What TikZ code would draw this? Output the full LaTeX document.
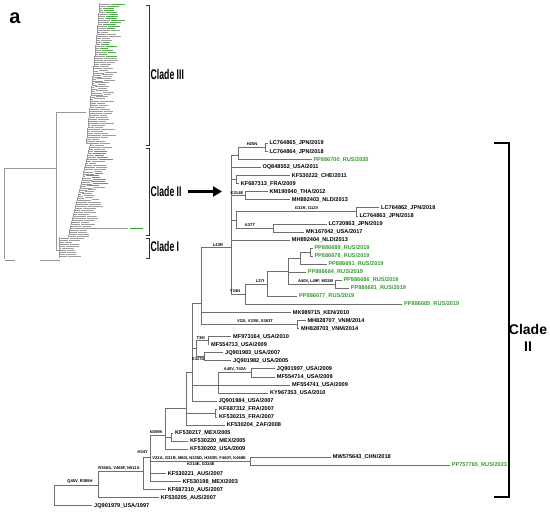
\documentclass[tikz,border=0pt]{standalone}
\usepackage{fontspec}
\setmainfont{Liberation Sans}
\usepackage{graphicx}
\usetikzlibrary{arrows.meta}
\definecolor{tg}{RGB}{50,155,45}
\definecolor{br}{RGB}{110,110,110}
\begin{document}
\begin{tikzpicture}[x=1pt,y=-1pt,
  leaf/.style={anchor=west, inner xsep=1.6pt, inner ysep=0pt, font=\fontsize{5.6}{6}\selectfont\bfseries, text=black},
  gleaf/.style={leaf, text=tg},
  mut/.style={anchor=south, inner sep=0.3pt, font=\fontsize{4.1}{4.5}\selectfont\bfseries},
  mutb/.style={mut, anchor=north},
  edge/.style={draw=br, line width=0.5pt},
  thumb/.style={black!40, line width=0.3pt},
  bigbracket/.style={line width=2.6pt, line join=miter},
  smallbracket/.style={line width=0.8pt, draw=black!80},
  cladelab/.style={anchor=west, inner sep=0pt, font=\fontsize{14}{14}\selectfont\bfseries}]
\useasboundingbox (0,0) rectangle (550,512);

% ---------- thumbnail tree ----------
\pgfmathsetseed{11}
\foreach \i in {0,...,125} {
  \pgfmathsetmacro\yy{4+2.02*\i}
  \pgfmathsetmacro\xb{\yy<145 ? 100-14*\yy/145 : (\yy<237 ? 90-22*(\yy-145)/92 : 59)}
  \pgfmathsetmacro\len{2+12*rnd}
  \pgfmathsetmacro\wid{7+8*rnd}
  \pgfmathtruncatemacro\isg{(\yy<30 || (\yy>42 && \yy<58) || (\yy>150 && \yy<160) || (\yy>172 && \yy<186)) ? 1 : 0}
  \ifnum\isg=1 \def\lc{tg!85}\else\def\lc{black!38}\fi
  \draw[thumb] (\xb,\yy-1.01) -- (\xb,\yy+1.01);
  \draw[thumb] (\xb,\yy) -- ++(\len,0);
  \fill[\lc] (\xb+\len+1,\yy-0.45) rectangle ++(\wid,0.9);
}
\draw[thumb] (4,168.3) -- (56,168.3);
\draw[thumb] (4,168.3) -- (4,259);
\draw[thumb] (56,112) -- (56,250) -- (59,250);
\draw[thumb] (56,112) -- (86,112);
\draw[thumb] (75,228) -- (128,228);
\fill[tg] (130,227.5) rectangle (143,228.5);
\fill[black!45] (5,259.8) rectangle (15,260.8);
\draw[thumb] (40,260.3) -- (60,260.3);

% ---------- thumbnail brackets ----------
\draw[smallbracket] (146,5) -- (149,5) -- (149,145) -- (146,145);
\draw[smallbracket] (146,148) -- (149,148) -- (149,235) -- (146,235);
\draw[smallbracket] (146,238.5) -- (149,238.5) -- (149,258) -- (146,258);
\node[cladelab] (c3) at (150.5,74) {\scalebox{0.62}[1]{Clade III}};
\node[cladelab] (c2s) at (150.5,191.5) {\scalebox{0.62}[1]{Clade II}};
\node[cladelab] (c1) at (150.5,246) {\scalebox{0.62}[1]{Clade I}};
\coordinate (arrend) at (222,191.5);
\draw[line width=2.6pt, -{Triangle[length=9pt,width=10pt]}] ([xshift=6pt]c2s.east) -- (arrend);
\node[font=\fontsize{20}{20}\selectfont\bfseries] (lab) at (15,18) {a};

% ---------- main tree: internal nodes ----------
\coordinate (r) at (54.3,495);
\coordinate (n1) at (98.3,485);
\coordinate (n2) at (143.3,471.3);
\coordinate (n3) at (150,457.3);
\coordinate (n5) at (250,461.3);
\coordinate (n4) at (165,435.3);
\coordinate (n7) at (171.7,437.1);
\coordinate (n6) at (186.7,408);
\coordinate (n9) at (215.7,413);
\coordinate (n8) at (192,372);
\coordinate (n11) at (196,348.6);
\coordinate (n13) at (208,340.5);
\coordinate (n14) at (204.3,356.6);
\coordinate (n12) at (218,384.8);
\coordinate (n15) at (251.7,372.7);
\coordinate (n10) at (201.7,303.3);
\coordinate (n17) at (297.3,324.4);
\coordinate (n16) at (231,247.7);
\coordinate (n18) at (238,155.4);
\coordinate (n23) at (265,147.3);
\coordinate (n19) at (236.7,179.5);
\coordinate (n20) at (245,195.6);
\coordinate (n21) at (236,219.8);
\coordinate (n24) at (356.7,211.7);
\coordinate (n25) at (273.3,227.8);
\coordinate (n22) at (245,294);
\coordinate (n26) at (267,284);
\coordinate (n27) at (288,271);
\coordinate (n28) at (300,258);
\coordinate (n30) at (310,252);
\coordinate (n29) at (335,284.2);

% ---------- leaves ----------
\node[leaf] (l0) at (267.7,143.3) {LC764865\_JPN/2019};
\node[leaf] (l1) at (267.7,151.35) {LC764864\_JPN/2018};
\node[gleaf] (l2) at (311.7,159.4) {PP886700\_RUS/2020};
\node[leaf] (l3) at (260.7,167.45) {OQ848552\_USA/2011};
\node[leaf] (l4) at (290.1,175.5) {KF530222\_CHE/2011};
\node[leaf] (l5) at (239.1,183.55) {KF687313\_FRA/2009};
\node[leaf] (l6) at (267.7,191.6) {KM190940\_THA/2012};
\node[leaf] (l7) at (290.1,199.65) {MH892403\_NLD/2013};
\node[leaf] (l8) at (379.4,207.7) {LC764862\_JPN/2018};
\node[leaf] (l9) at (357.7,215.75) {LC764863\_JPN/2018};
\node[leaf] (l10) at (326.7,223.8) {LC720863\_JPN/2019};
\node[leaf] (l11) at (304.4,231.85) {MK167042\_USA/2017};
\node[leaf] (l12) at (290.1,239.9) {MH892404\_NLD/2013};
\node[gleaf] (l13) at (312.7,247.95) {PP886688\_RUS/2019};
\node[gleaf] (l14) at (312.7,256.0) {PP886678\_RUS/2019};
\node[gleaf] (l15) at (326.7,264.05) {PP886691\_RUS/2019};
\node[gleaf] (l16) at (306.1,272.1) {PP886684\_RUS/2019};
\node[gleaf] (l17) at (341.7,280.15) {PP886686\_RUS/2019};
\node[gleaf] (l18) at (349.1,288.2) {PP886681\_RUS/2019};
\node[gleaf] (l19) at (297.4,296.25) {PP886677\_RUS/2019};
\node[gleaf] (l20) at (402.4,304.3) {PP886685\_RUS/2019};
\node[leaf] (l21) at (291.1,312.35) {MK989715\_KEN/2010};
\node[leaf] (l22) at (305.7,320.4) {MH828707\_VNM/2014};
\node[leaf] (l23) at (299.4,328.45) {MH828703\_VNM/2014};
\node[leaf] (l24) at (231.4,336.5) {MF973164\_USA/2010};
\node[leaf] (l25) at (209.4,344.55) {MF554713\_USA/2009};
\node[leaf] (l26) at (223.4,352.6) {JQ901983\_USA/2007};
\node[leaf] (l27) at (231.4,360.65) {JQ901982\_USA/2005};
\node[leaf] (l28) at (275.1,368.7) {JQ901997\_USA/2009};
\node[leaf] (l29) at (275.1,376.75) {MF554714\_USA/2009};
\node[leaf] (l30) at (290.4,384.8) {MF554741\_USA/2009};
\node[leaf] (l31) at (268.4,392.85) {KY967353\_USA/2010};
\node[leaf] (l32) at (216.7,400.9) {JQ901984\_USA/2007};
\node[leaf] (l33) at (217.4,408.95) {KF687312\_FRA/2007};
\node[leaf] (l34) at (217.4,417.0) {KF530215\_FRA/2007};
\node[leaf] (l35) at (225.1,425.05) {KF530204\_ZAF/2008};
\node[leaf] (l36) at (173.4,433.1) {KF530217\_MEX/2005};
\node[leaf] (l37) at (188.4,441.15) {KF530220\_MEX/2005};
\node[leaf] (l38) at (188.4,449.2) {KF530202\_USA/2009};
\node[leaf] (l39) at (331.1,457.25) {MW575643\_CHN/2018};
\node[gleaf] (l40) at (450.1,465.3) {PP757765\_RUS/2023};
\node[leaf] (l41) at (166.1,473.35) {KF530221\_AUS/2007};
\node[leaf] (l42) at (180.7,481.4) {KF530198\_MEX/2003};
\node[leaf] (l43) at (166.1,489.45) {KF687310\_AUS/2007};
\node[leaf] (l44) at (159.1,497.5) {KF530205\_AUS/2007};
\node[leaf] (l45) at (92.4,505.55) {JQ901979\_USA/1997};

% ---------- edges ----------
\foreach \p/\c in {r/n1, n1/n2, n2/n3, n3/n4, n3/n5, n4/n6, n4/n7, n6/n8, n6/n9,
  n8/n10, n8/n11, n8/n12, n11/n13, n11/n14, n12/n15, n10/n16, n10/n17,
  n16/n18, n16/n19, n16/n20, n16/n21, n16/n22, n18/n23, n21/n24, n21/n25,
  n22/n26, n26/n27, n27/n28, n27/n29, n28/n30}
  \draw[edge] (\p) |- (\c);
\foreach \p/\c in {n23/l0, n23/l1, n18/l2, n16/l3, n19/l4, n19/l5, n20/l6, n20/l7,
  n24/l8, n24/l9, n25/l10, n25/l11, n16/l12, n30/l13, n30/l14, n28/l15, n27/l16,
  n29/l17, n29/l18, n26/l19, n22/l20, n10/l21, n17/l22, n17/l23, n13/l24, n13/l25,
  n14/l26, n14/l27, n15/l28, n15/l29, n12/l30, n12/l31, n8/l32, n9/l33, n9/l34,
  n6/l35, n7/l36, n7/l37, n4/l38, n5/l39, n5/l40, n3/l41, n3/l42, n2/l43, n1/l44, r/l45}
  \draw[edge] (\p) |- (\c.west);

% ---------- mutation labels ----------
\node[mut] (m1) at (252,146.5) {H25N};
\node[mut] (m2) at (237,194.8) {K314E};
\node[mut] (m3) at (306.7,210.9) {G31R, I112V};
\node[mut] (m4) at (250,227) {A37T};
\node[mut] (m5) at (218,246.9) {L43R};
\node[mut] (m6) at (260,283.2) {L27I};
\node[mut] (m7) at (315.5,283.4) {A40V, L49F, M328I};
\node[mut] (m8) at (235,293.2) {Y34N};
\node[mut] (m9) at (255,323.6) {V22I, V335I, S363T};
\node[mut] (m10) at (200.7,339.7) {T39I};
\node[mut] (m11) at (198.3,360.7) {E327D};
\node[mut] (m12) at (235,371.9) {A40V, T42A};
\node[mut] (m13) at (156.3,434.5) {N359K};
\node[mut] (m14) at (199.2,460.5) {V22A, G31R, M60I, N335D, H383R, F460Y, K468E};
\node[mutb] (m15) at (200.8,462.3) {K314E, G324E};
\node[mut] (m16) at (142.7,454) {H34Y};
\node[mut] (m17) at (119,470.5) {R356S, V468F, N511S};
\node[mut] (m18) at (80,484.2) {Q45V, R385H};

% ---------- right bracket ----------
\coordinate (bt) at (494,143);
\coordinate (bb) at (494,497);
\draw[bigbracket] (bt) -- ++(15,0) |- (bb);
\node[font=\fontsize{14}{17}\selectfont\bfseries, align=center, inner sep=0pt] (c2) at (528,338) {Clade\\II};
\end{tikzpicture}
\end{document}
